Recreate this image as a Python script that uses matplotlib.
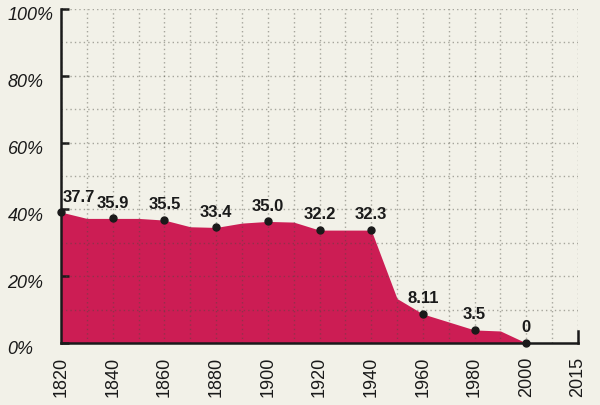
import matplotlib
matplotlib.use("Agg")
import matplotlib.pyplot as plt
import matplotlib.transforms as mtransforms


BG = "#f2f1e8"
FILL = "#cc1d54"
INK = "#1a1a1a"
FONT = ["Liberation Sans", "DejaVu Sans"]

# decade slots, equally spaced on the axis (last slot is 2015)
years = ["1820", "1830", "1840", "1850", "1860", "1870", "1880", "1890", "1900",
         "1910", "1920", "1930", "1940", "1950", "1960", "1970", "1980", "1990",
         "2000", "2010", "2015"]
# area outline (percent)
share = [39.2, 37.3, 37.3, 37.3, 36.8, 34.8, 34.6, 35.9, 36.4,
         36.2, 33.8, 33.8, 33.8, 13.3, 8.7, 6.3, 3.9, 3.6, 0.0]
# labelled points
point_years = ["1820", "1840", "1860", "1880", "1900", "1920", "1940", "1960", "1980", "2000"]
point_labels = ["37.7", "35.9", "35.5", "33.4", "35.0", "32.2", "32.3", "8.11", "3.5", "0"]
tick_years = ["1820", "1840", "1860", "1880", "1900", "1920", "1940", "1960", "1980", "2000", "2015"]
y_ticks = [0, 20, 40, 60, 80, 100]

slots = {y: i for i, y in enumerate(years)}

fig = plt.figure(figsize=(6.0, 4.05), dpi=100, facecolor=BG)
ax = fig.add_axes([0.1017, 0.1531, 0.8616, 0.8247])
ax.set_facecolor(BG)

xs = list(range(len(share)))
ax.fill_between(xs, 0, share, color=FILL, linewidth=0, zorder=1)

# dotted grid on top of the area
for i in range(len(years)):
    ax.axvline(i, color="#4a4a40", alpha=0.45, linewidth=1.0,
               linestyle=(0, (1, 2.2)), zorder=2)
for v in range(10, 101, 10):
    ax.axhline(v, color="#4a4a40", alpha=0.45, linewidth=1.0,
               linestyle=(0, (1, 2.2)), zorder=2)

px = [slots[y] for y in point_years]
py = [share[slots[y]] for y in point_years]
ax.plot(px, py, "o", color=INK, markersize=5, zorder=4, clip_on=False)

for i, (x, y, lab) in enumerate(zip(px, py, point_labels)):
    if i == 0:
        off, ha = (1.5, 5), "left"
    else:
        off, ha = (0, 5.5), "center"
    ax.annotate(lab, (x, y), xytext=off, textcoords="offset points",
                ha=ha, va="bottom", fontsize=12, fontweight="bold",
                family=FONT, color=INK, zorder=5)

ax.set_xlim(0, len(years) - 1)
ax.set_ylim(0, 100)

ax.spines["top"].set_visible(False)
ax.spines["right"].set_visible(False)
for s in ("left", "bottom"):
    ax.spines[s].set_linewidth(1.8)
    ax.spines[s].set_color(INK)
    ax.spines[s].set_zorder(6)
# small upward tick closing the x axis at 2015
ax.axvline(slots["2015"], ymin=0, ymax=0.036, color=INK, linewidth=1.8,
           zorder=6, clip_on=False)

ax.set_yticks(y_ticks)
ax.set_yticklabels([f"{v}%" for v in y_ticks])
ax.tick_params(axis="y", direction="in", length=6, width=1.8, color=INK,
               pad=38.5, labelsize=13, labelcolor=INK)
shift = mtransforms.ScaledTranslation(0, -0.05, fig.dpi_scale_trans)
for lab in ax.get_yticklabels():
    lab.set_horizontalalignment("left")
    lab.set_family(FONT)
    lab.set_style("italic")
    lab.set_transform(lab.get_transform() + shift)

ax.set_xticks([slots[y] for y in tick_years])
ax.set_xticklabels(tick_years, rotation=90)
ax.tick_params(axis="x", length=0, pad=10, labelsize=13, labelcolor=INK)
for lab in ax.get_xticklabels():
    lab.set_family(FONT)
    lab.set_verticalalignment("top")

fig.savefig("out.png", dpi=100, facecolor=BG)
